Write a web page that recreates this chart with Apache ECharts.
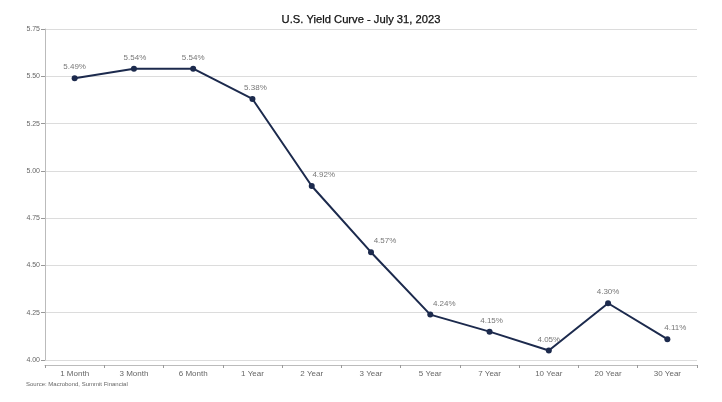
<!DOCTYPE html>
<html>
<head>
<meta charset="utf-8">
<script src="https://cdn.jsdelivr.net/npm/echarts@6/dist/echarts.min.js"></script>
<style>
  html, body { margin: 0; padding: 0; background: #fff; }
  #chart { width: 722px; height: 402px; }
</style>
</head>
<body>
<div id="chart"></div>
<script>
// Treasury maturities along the curve
const maturities = ['1 Month', '3 Month', '6 Month', '1 Year', '2 Year', '3 Year', '5 Year', '7 Year', '10 Year', '20 Year', '30 Year'];
// Yields (%) on July 31, 2023
const yields = [5.49, 5.54, 5.54, 5.38, 4.92, 4.57, 4.24, 4.15, 4.05, 4.30, 4.11];
// Value axis range and step
const yMin = 4.00;
const yMax = 5.75;
const yStep = 0.25;
// Horizontal nudge (px) of each value label so it clears the line
const labelShiftX = [0, 1, 0, 3, 12, 14, 14, 2, 0, 0, 8];

const FONT = 'Liberation Sans, Arial, sans-serif';
const chart = echarts.init(document.getElementById('chart'), null, { renderer: 'canvas' });

chart.setOption({
  backgroundColor: '#ffffff',
  animation: false,
  textStyle: { fontFamily: FONT },
  title: {
    text: 'U.S. Yield Curve - July 31, 2023',
    left: 'center',
    top: 9,
    padding: [5, 0, 5, 6],
    textStyle: { fontSize: 11.2, fontWeight: 'normal', color: '#111', fontFamily: FONT, textBorderColor: '#111', textBorderWidth: 0.25 }
  },
  graphic: [{
    type: 'text',
    left: 26,
    top: 381,
    style: { text: 'Source: Macrobond, Summit Financial', fontSize: 6, fill: '#666', fontFamily: FONT }
  }],
  grid: { left: 45, right: 25, top: 29, bottom: 42 },
  xAxis: {
    type: 'category',
    data: maturities,
    boundaryGap: true,
    offset: 5,
    axisLine: { show: true, lineStyle: { color: '#bbb', width: 1 } },
    axisTick: { show: true, length: 3, lineStyle: { color: '#999' } },
    axisLabel: { color: '#666', fontSize: 8, margin: 5 },
    splitLine: { show: false }
  },
  yAxis: {
    type: 'value',
    min: yMin,
    max: yMax,
    interval: yStep,
    axisLine: { show: true, lineStyle: { color: '#bbb', width: 1 } },
    axisTick: { show: true, length: 4, lineStyle: { color: '#999' } },
    axisLabel: { color: '#666', fontSize: 7, margin: 5, formatter: v => v.toFixed(2) },
    splitLine: { show: true, lineStyle: { color: '#dcdcdc', width: 1 } }
  },
  series: [{
    type: 'line',
    data: yields.map((v, i) => ({
      value: v,
      label: { offset: [labelShiftX[i], 0] }
    })),
    symbol: 'circle',
    symbolSize: 6,
    lineStyle: { color: '#1c2a4d', width: 2 },
    itemStyle: { color: '#1c2a4d' },
    label: {
      show: true,
      position: 'top',
      distance: 4,
      color: '#777',
      fontSize: 8,
      formatter: p => p.value.toFixed(2) + '%'
    }
  }]
});
</script>
</body>
</html>
